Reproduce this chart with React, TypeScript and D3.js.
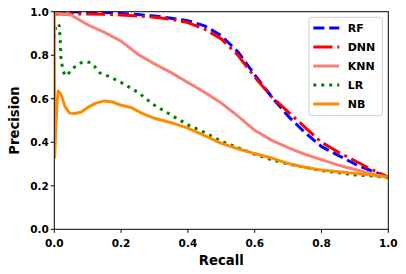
import * as d3 from "d3";

const W = 406;
const H = 274;
const margin = { left: 54.3, right: 17.7, top: 11.7, bottom: 44.7 };

// recall grid for the smoother curves
const recallGrid = [0, 0.05, 0.1, 0.15, 0.2, 0.25, 0.3, 0.35, 0.4, 0.45, 0.5, 0.55, 0.6, 0.65, 0.7, 0.75, 0.8, 0.85, 0.9, 0.95, 1.0];
const rfPrecision = [1.0, 1.0, 0.998, 0.996, 0.992, 0.987, 0.98, 0.97, 0.958, 0.935, 0.89, 0.815, 0.71, 0.61, 0.52, 0.445, 0.38, 0.34, 0.3, 0.268, 0.238];
const dnnPrecision = [0.99, 0.99, 0.99, 0.988, 0.985, 0.98, 0.975, 0.965, 0.95, 0.92, 0.875, 0.8, 0.7, 0.61, 0.54, 0.47, 0.4, 0.355, 0.315, 0.275, 0.24];
const knnPrecision = [0.995, 0.985, 0.94, 0.905, 0.865, 0.805, 0.76, 0.72, 0.675, 0.63, 0.58, 0.52, 0.455, 0.41, 0.375, 0.345, 0.32, 0.295, 0.275, 0.255, 0.238];

const lrRecall = [0, 0.004, 0.01, 0.015, 0.018, 0.02, 0.027, 0.033, 0.045, 0.06, 0.08, 0.097, 0.11, 0.12, 0.135, 0.16, 0.2, 0.25, 0.3, 0.35, 0.4, 0.45, 0.5, 0.55, 0.6, 0.65, 0.7, 0.75, 0.8, 0.85, 0.9, 0.95, 1.0];
const lrPrecision = [0.88, 0.93, 0.945, 0.935, 0.86, 0.78, 0.725, 0.705, 0.72, 0.745, 0.765, 0.77, 0.765, 0.75, 0.72, 0.705, 0.675, 0.63, 0.57, 0.525, 0.48, 0.445, 0.405, 0.375, 0.345, 0.32, 0.3, 0.285, 0.27, 0.26, 0.25, 0.245, 0.238];

const nbRecall = [0, 0.001, 0.004, 0.008, 0.012, 0.02, 0.032, 0.045, 0.06, 0.08, 0.1, 0.125, 0.15, 0.175, 0.2, 0.23, 0.26, 0.3, 0.35, 0.4, 0.45, 0.5, 0.55, 0.6, 0.65, 0.7, 0.75, 0.8, 0.85, 0.9, 0.95, 1.0];
const nbPrecision = [1.0, 0.33, 0.45, 0.58, 0.635, 0.62, 0.565, 0.535, 0.532, 0.538, 0.56, 0.58, 0.59, 0.585, 0.57, 0.56, 0.535, 0.51, 0.49, 0.465, 0.43, 0.395, 0.37, 0.348, 0.328, 0.302, 0.285, 0.272, 0.265, 0.257, 0.25, 0.24];

const ticks = [0, 0.2, 0.4, 0.6, 0.8, 1.0];

const series = [
  { name: "RF", color: "#0000ff", dash: "11.1,4.8", x: recallGrid, y: rfPrecision },
  { name: "DNN", color: "#ff0000", dash: "19.2,4.8,3,4.8", x: recallGrid, y: dnnPrecision },
  { name: "KNN", color: "#fa8072", dash: null, x: recallGrid, y: knnPrecision },
  { name: "LR", color: "#008000", dash: "3,4.95", x: lrRecall, y: lrPrecision },
  { name: "NB", color: "#ff8c00", dash: null, x: nbRecall, y: nbPrecision },
];

const font = "'DejaVu Sans', sans-serif";

export default function App() {
  const x = d3.scaleLinear().domain([0, 1]).range([margin.left, W - margin.right]);
  const y = d3.scaleLinear().domain([0, 1]).range([H - margin.bottom, margin.top]);

  const line = d3.line<[number, number]>()
    .x(d => x(d[0]))
    .y(d => y(d[1]));

  const x0 = x(0), x1 = x(1), y0 = y(0), y1 = y(1);

  return (
    <svg width={W} height={H} style={{ position: "absolute", left: 0, top: 0, background: "#fff" }}>
      <defs>
        <clipPath id="plot">
          <rect x={x0} y={y1} width={x1 - x0} height={y0 - y1} />
        </clipPath>
      </defs>

      {/* curves */}
      <g clipPath="url(#plot)">
        {series.map(s => (
          <path
            key={s.name}
            d={line(s.x.map((v, i) => [v, s.y[i]] as [number, number])) || ""}
            fill="none"
            stroke={s.color}
            strokeWidth={3}
            strokeDasharray={s.dash || undefined}
            strokeLinejoin="round"
            strokeLinecap={s.dash ? "butt" : "square"}
          />
        ))}
      </g>

      {/* frame */}
      <rect x={x0} y={y1} width={x1 - x0} height={y0 - y1} fill="none" stroke="#000" strokeWidth={1} />

      {/* x axis */}
      {ticks.map(t => (
        <g key={"x" + t}>
          <line x1={x(t)} x2={x(t)} y1={y0} y2={y0 + 3.5} stroke="#000" />
          <text x={x(t)} y={y0 + 17.5} textAnchor="middle" fontFamily={font} fontWeight="bold" fontSize={10.5}>
            {t.toFixed(1)}
          </text>
        </g>
      ))}
      {/* y axis */}
      {ticks.map(t => (
        <g key={"y" + t}>
          <line x1={x0 - 3.5} x2={x0} y1={y(t)} y2={y(t)} stroke="#000" />
          <text x={x0 - 5.5} y={y(t) + 3.8} textAnchor="end" fontFamily={font} fontWeight="bold" fontSize={10.5}>
            {t.toFixed(1)}
          </text>
        </g>
      ))}

      <text x={(x0 + x1) / 2} y={265} textAnchor="middle" fontFamily={font} fontWeight="bold" fontSize={13.2}>
        Recall
      </text>
      <text
        transform={`translate(18.5,${(y0 + y1) / 2}) rotate(-90)`}
        textAnchor="middle"
        fontFamily={font}
        fontWeight="bold"
        fontSize={13.2}
      >
        Precision
      </text>

      {/* legend */}
      <g>
        <rect x={309} y={17.3} width={73.3} height={98.4} rx={2.5} fill="#fff" fillOpacity={0.8} stroke="#cccccc" />
        {series.map((s, i) => {
          const ly = 28 + i * 19;
          return (
            <g key={"lg" + s.name}>
              <line
                x1={313.3}
                x2={339.3}
                y1={ly}
                y2={ly}
                stroke={s.color}
                strokeWidth={3}
                strokeDasharray={s.dash || undefined}
              />
              <text x={347.7} y={ly + 4} fontFamily={font} fontWeight="bold" fontSize={11}>
                {s.name}
              </text>
            </g>
          );
        })}
      </g>
    </svg>
  );
}
